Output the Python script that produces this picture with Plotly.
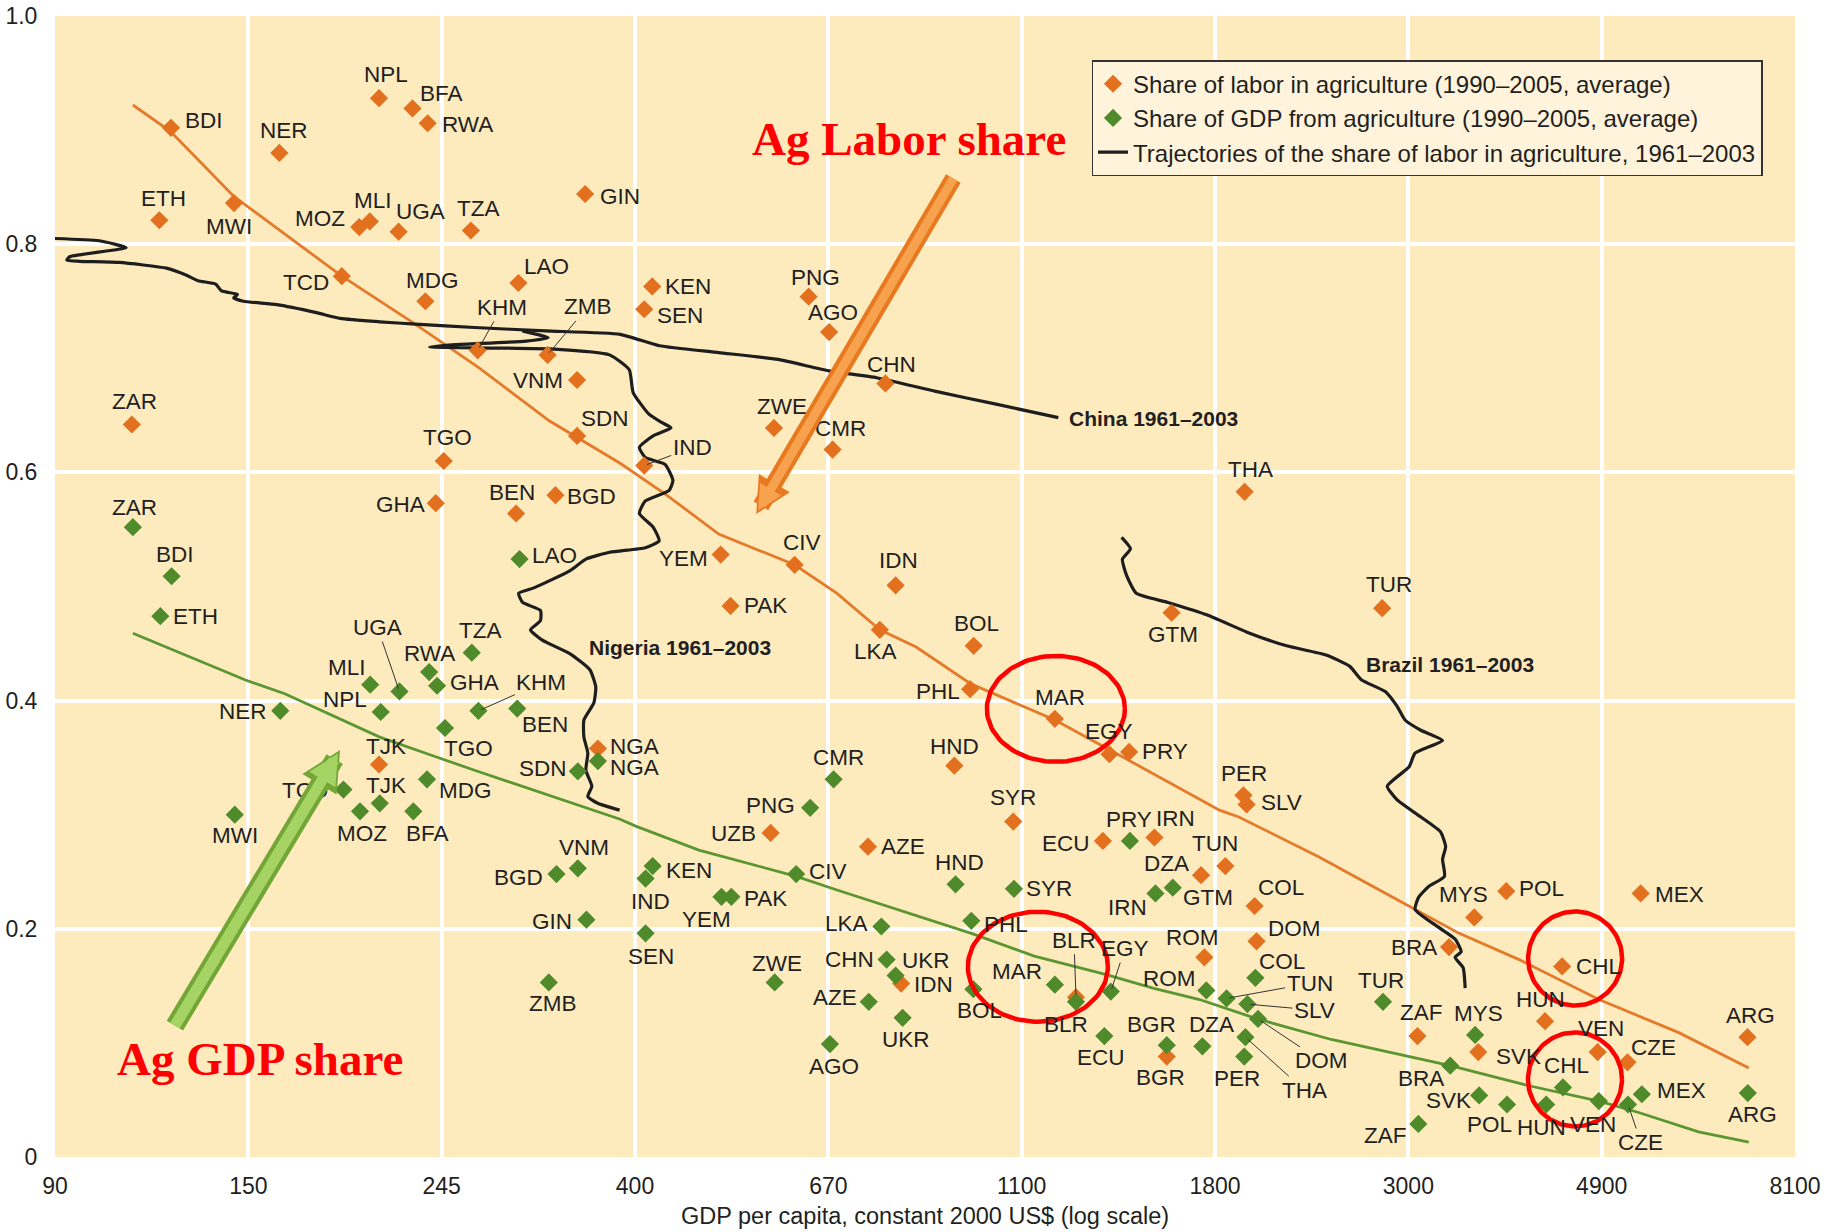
import numpy as np
import plotly.graph_objects as go

# ------------------------------------------------------------------ data
x_tick_labels = ["90", "150", "245", "400", "670", "1100", "1800", "3000", "4900", "8100"]
y_tick_values = [0, 0.2, 0.4, 0.6, 0.8, 1.0]
y_tick_labels = ["0", "0.2", "0.4", "0.6", "0.8", "1.0"]

labor_country = ["BDI", "NER", "NPL", "BFA", "RWA", "ETH", "MWI", "MOZ", "MLI", "UGA",
                 "TZA", "GIN", "TCD", "MDG", "LAO", "KHM", "ZMB", "VNM", "ZAR", "SDN",
                 "KEN", "SEN", "PNG", "AGO", "CHN", "ZWE", "CMR", "IND", "TGO", "GHA",
                 "BEN", "BGD", "YEM", "CIV", "IDN", "PAK", "LKA", "BOL", "PHL", "MAR",
                 "EGY", "PRY", "HND", "GTM", "THA", "TUR", "NGA", "TJK", "SYR", "PER",
                 "SLV", "UZB", "AZE", "ECU", "IRN", "DZA", "TUN", "COL", "DOM", "ROM",
                 "BLR", "IDN", "BGR", "MYS", "POL", "MEX", "BRA", "CHL", "HUN", "ZAF",
                 "SVK", "VEN", "CZE", "ARG"]
labor_gdp_pc = [121.5, 160.8, 208.1, 226.9, 236.0, 117.9, 143.0, 197.7, 203.2, 218.9,
                263.9, 354.6, 189.0, 234.6, 298.4, 268.6, 321.8, 347.3, 109.8, 347.3,
                421.8, 413.2, 632.1, 666.5, 770.9, 577.9, 672.5, 413.2, 246.0, 241.0,
                296.6, 328.4, 503.5, 609.6, 791.5, 516.5, 759.9, 968.6, 959.8, 1195,
                1376, 1448, 921.4, 1616, 1952, 2786, 366.5, 208.1, 1073, 1946,
                1962, 572.9, 736.9, 1353, 1546, 1744, 1857, 2003, 2013, 1759,
                1262, 802.9, 1596, 3535, 3840, 5436, 3312, 4437, 4245, 3052,
                3572, 4864, 5254, 7165]
labor_share = [0.902, 0.880, 0.928, 0.919, 0.906, 0.821, 0.836, 0.815, 0.820, 0.811,
               0.812, 0.844, 0.772, 0.750, 0.766, 0.707, 0.703, 0.681, 0.642, 0.632,
               0.763, 0.743, 0.754, 0.723, 0.678, 0.639, 0.620, 0.606, 0.610, 0.573,
               0.564, 0.580, 0.528, 0.519, 0.501, 0.483, 0.462, 0.448, 0.410, 0.384,
               0.353, 0.355, 0.343, 0.477, 0.583, 0.481, 0.358, 0.344, 0.294, 0.317,
               0.309, 0.284, 0.272, 0.277, 0.280, 0.247, 0.255, 0.220, 0.189, 0.175,
               0.140, 0.152, 0.088, 0.210, 0.233, 0.231, 0.184, 0.167, 0.119, 0.106,
               0.092, 0.092, 0.083, 0.105]

gdp_country = ["ZAR", "BDI", "ETH", "LAO", "TZA", "RWA", "GHA", "MLI", "UGA", "NER",
               "NPL", "KHM", "BEN", "TGO", "SDN", "NGA", "TCD", "TJK", "MDG", "MWI",
               "MOZ", "BFA", "BGD", "VNM", "GIN", "ZMB", "PNG", "CMR", "KEN", "IND",
               "CIV", "YEM", "PAK", "SEN", "LKA", "HND", "SYR", "PHL", "PRY", "IRN",
               "GTM", "CHN", "UKR", "ZWE", "AZE", "UKR", "AGO", "BOL", "MAR", "BLR",
               "EGY", "ECU", "BGR", "DZA", "ROM", "COL", "TUN", "SLV", "DOM", "THA",
               "PER", "TUR", "ZAF", "BRA", "MYS", "SVK", "POL", "HUN", "CHL", "VEN",
               "CZE", "MEX", "ARG"]
gdp_gdp_pc = [110.1, 121.7, 118.2, 299.3, 264.5, 236.9, 241.8, 203.4, 219.4, 161.2,
              209.0, 269.1, 297.5, 246.8, 348.0, 366.5, 189.8, 208.5, 235.6, 143.3,
              198.1, 227.4, 329.3, 348.0, 355.8, 322.8, 634.6, 674.3, 422.3, 414.6,
              612.0, 504.5, 517.6, 414.6, 762.9, 924.3, 1075, 962.7, 1451, 1550,
              1621, 773.3, 791.5, 579.0, 738.5, 806.0, 667.9, 968.0, 1195, 1262,
              1381, 1358, 1596, 1750, 1768, 2007, 1863, 1966, 2021, 1956,
              1950, 2792, 3059, 3322, 3543, 3580, 3848, 4258, 4447, 4879,
              5261, 5453, 7172]
gdp_share = [0.552, 0.509, 0.474, 0.524, 0.442, 0.425, 0.413, 0.414, 0.408, 0.391,
             0.390, 0.391, 0.393, 0.376, 0.338, 0.347, 0.322, 0.310, 0.331, 0.300,
             0.303, 0.303, 0.248, 0.253, 0.208, 0.153, 0.306, 0.331, 0.255, 0.244,
             0.248, 0.228, 0.228, 0.196, 0.202, 0.239, 0.235, 0.207, 0.277, 0.231,
             0.236, 0.173, 0.159, 0.153, 0.136, 0.122, 0.099, 0.147, 0.151, 0.136,
             0.145, 0.106, 0.098, 0.097, 0.146, 0.157, 0.139, 0.134, 0.121, 0.105,
             0.088, 0.136, 0.029, 0.080, 0.107, 0.054, 0.046, 0.046, 0.061, 0.049,
             0.046, 0.055, 0.056]

labor_fit_gdp = [110.1, 121.3, 142.9, 159.8, 189.0, 227.4, 269.1, 323.5, 388.2, 436.3,
                 500.9, 609.6, 680.2, 760.0, 834.7, 959.9, 1195, 1376, 1829, 1923,
                 2366, 3034, 3400, 3970, 4880, 6000, 7190]
labor_fit_share = [0.922, 0.899, 0.842, 0.814, 0.772, 0.731, 0.692, 0.645, 0.608, 0.581,
                   0.546, 0.519, 0.494, 0.462, 0.447, 0.415, 0.383, 0.357, 0.304, 0.298,
                   0.263, 0.217, 0.196, 0.173, 0.138, 0.109, 0.078]

gdp_fit_gdp = [110.1, 147.3, 163.1, 208.5, 240.5, 266.4, 388.2, 404.1, 475.9, 612.1,
               680.2, 793.2, 962.7, 1133, 1362, 1540, 1737, 2017, 2442, 3323,
               4096, 4880, 5408, 6314, 7190]
gdp_fit_share = [0.459, 0.418, 0.406, 0.368, 0.351, 0.339, 0.296, 0.290, 0.269, 0.246,
                 0.234, 0.217, 0.196, 0.176, 0.160, 0.148, 0.138, 0.121, 0.103, 0.080,
                 0.062, 0.049, 0.039, 0.022, 0.013]

china_gdp = [90.0, 100.9, 108.2, 93.5, 92.8, 95.9, 106.2, 120.1, 126.3, 130.3,
             136.4, 138.5, 144.3, 142.9, 146.5, 159.8, 177.0, 188.2, 208.5, 228.6,
             266.4, 320.2, 388.2, 429.7, 500.9, 583.8, 666.5, 753.7, 878.3, 1023.3, 1205.6]
china_share = [0.805, 0.803, 0.797, 0.789, 0.786, 0.785, 0.784, 0.779, 0.773, 0.768,
               0.765, 0.759, 0.756, 0.753, 0.750, 0.747, 0.740, 0.735, 0.732, 0.730,
               0.727, 0.724, 0.721, 0.711, 0.705, 0.699, 0.689, 0.683, 0.671, 0.660, 0.648]

nigeria_gdp = [301.4, 322.2, 304.5, 253.4, 237.2, 280.7, 327.2, 377.7, 397.5, 401.5,
               418.3, 431.6, 442.8, 422.8, 408.0, 414.4, 436.0, 445.0, 440.5, 414.4,
               408.0, 422.8, 429.4, 414.4, 377.9, 355.3, 341.1, 311.1, 298.6, 301.7,
               315.9, 315.9, 307.9, 317.4, 341.1, 359.0, 364.5, 362.7, 353.5, 353.5,
               357.1, 355.3, 360.8, 357.1, 366.4, 387.7]
nigeria_share = [0.724, 0.718, 0.715, 0.712, 0.710, 0.709, 0.708, 0.703, 0.690, 0.670,
                 0.651, 0.644, 0.639, 0.632, 0.622, 0.613, 0.607, 0.593, 0.584, 0.575,
                 0.564, 0.552, 0.540, 0.534, 0.530, 0.524, 0.514, 0.499, 0.494, 0.486,
                 0.479, 0.470, 0.462, 0.453, 0.441, 0.427, 0.412, 0.398, 0.383, 0.368,
                 0.354, 0.339, 0.325, 0.316, 0.310, 0.304]

brazil_gdp = [1420, 1453, 1423, 1438, 1475, 1601, 1773, 1964, 2176, 2410,
              2562, 2642, 2808, 2896, 2956, 3079, 3257, 3033, 2987, 2823,
              2896, 3079, 3240, 3283, 3257, 3273, 3142, 3063, 3034, 3228,
              3364, 3417, 3364, 3435, 3453]
brazil_share = [0.543, 0.533, 0.524, 0.510, 0.494, 0.486, 0.475, 0.460, 0.448, 0.440,
                0.430, 0.418, 0.408, 0.395, 0.383, 0.374, 0.365, 0.354, 0.342, 0.325,
                0.313, 0.298, 0.285, 0.272, 0.261, 0.246, 0.237, 0.228, 0.217, 0.201,
                0.191, 0.180, 0.175, 0.166, 0.148]

# ------------------------------------------------------------------ layout helpers
# label placement per point: (anchor, dx px, dy px downwards); "lead" = leader line
labor_label_place = [
    ("left", 12, -7), ("center", 5, -22), ("center", 7, -24), ("left", 6, -15), ("left", 12, 1),
    ("center", 4, -22), ("center", -5, 23), ("right", -12, -9), ("center", 3, -21), ("center", 22, -20),
    ("center", 8, -22), ("left", 13, 2), ("right", -11, 6), ("center", 7, -21), ("left", 4, -16),
    ("lead", 24, -43), ("lead", 40, -48), ("right", -12, 1), ("center", 3, -23), ("left", 2, -17),
    ("left", 11, 0), ("left", 11, 6), ("center", 7, -19), ("center", 4, -20), ("center", 6, -19),
    ("center", 8, -21), ("center", 8, -21), ("lead", 48, -18), ("center", 4, -23), ("right", -9, 1),
    ("center", -4, -21), ("left", 10, 1), ("right", -11, 4), ("center", 7, -22), ("center", 3, -25),
    ("left", 11, 0), ("center", -4, 22), ("center", 3, -22), ("right", -8, 2), ("center", 5, -21),
    ("center", 0, -23), ("left", 11, 0), ("center", 0, -19), ("center", 1, 22), ("center", 6, -22),
    ("center", 7, -24), ("left", 10, -2), ("center", 7, -18), ("center", 0, -24), ("center", 1, -22),
    ("left", 12, -2), ("right", -13, 1), ("left", 11, 0), ("right", -11, 3), ("center", 21, -19),
    ("right", -10, -12), ("center", -10, -23), ("left", 1, -18), ("left", 9, -13), ("center", -12, -20),
    ("lead", -2, -57), ("left", 11, 1), ("center", -6, 21), ("center", -11, -23), ("left", 11, -3),
    ("left", 12, 1), ("right", -10, 0), ("left", 12, 0), ("center", -5, -22), ("center", 4, -24),
    ("left", 16, 4), ("center", 3, -24), ("left", 2, -15), ("center", 3, -22)]

gdp_label_place = [
    ("center", 2, -20), ("center", 3, -22), ("left", 11, 0), ("left", 10, -4), ("center", 9, -22),
    ("center", 0, -19), ("left", 11, -3), ("right", -2, -17), ("lead", -22, -64), ("right", -11, 1),
    ("right", -12, -13), ("lead", 63, -28), ("center", 28, 16), ("center", 24, 21), ("right", -9, -3),
    ("left", 10, 6), ("right", -13, 1), ("center", 6, -18), ("left", 10, 11), ("center", 0, 21),
    ("center", 2, 22), ("center", 14, 22), ("right", -11, 3), ("center", 6, -21), ("right", -12, 2),
    ("center", 4, 21), ("right", -13, -2), ("center", 5, -22), ("left", 11, 4), ("center", 5, 23),
    ("left", 11, -3), ("center", -15, 23), ("left", 11, 2), ("center", 5, 23), ("right", -11, -3),
    ("center", 4, -22), ("left", 10, 0), ("left", 11, 4), ("center", -1, -21), ("right", -6, 14),
    ("left", 8, 10), ("right", -11, 0), ("left", 4, -15), ("center", 2, -19), ("right", -10, -4),
    ("center", 3, 22), ("center", 4, 22), ("center", 6, 21), ("right", -11, -13), ("center", -10, 23),
    ("lead", 14, -43), ("center", -3, 21), ("center", -15, -21), ("center", 9, -22), ("right", -8, -12),
    ("left", 2, -16), ("lead", 83, -15), ("lead", 67, 6), ("lead", 63, 42), ("lead", 59, 53),
    ("center", -7, 22), ("center", -2, -21), ("right", -9, 12), ("center", -29, 13), ("center", 3, -21),
    ("right", -6, 5), ("center", -18, 20), ("center", -5, 23), ("center", 4, -22), ("center", -6, 23),
    ("lead", 13, 38), ("left", 13, -4), ("center", 5, 21)]

ORANGE = "#E2701F"
GREEN = "#4F8A2B"
TEXT = "#231F20"
SANS = "Liberation Sans, Arial, sans-serif"
label_font = dict(family=SANS, size=22.5, color=TEXT)

# plot geometry (for pixel-sized decorations)
W, H = 1827, 1232
ML, MR, MT, MB = 55, 32, 16, 75
PW, PH = W - ML - MR, H - MT - MB
X_RANGE = [4.5 / np.log(10), 9 / np.log(10)]
PX_PER_DECADE = PW / (X_RANGE[1] - X_RANGE[0])

fig = go.Figure()

# fitted curves
fig.add_trace(go.Scatter(x=labor_fit_gdp, y=labor_fit_share, mode="lines",
                         line=dict(color="#E47A2A", width=2.8), showlegend=False, hoverinfo="skip"))
fig.add_trace(go.Scatter(x=gdp_fit_gdp, y=gdp_fit_share, mode="lines",
                         line=dict(color="#5C9631", width=2.8), showlegend=False, hoverinfo="skip"))

# trajectories
TRAJ_NAME = "Trajectories of the share of labor in agriculture, 1961–2003"
for i, (gx, gy) in enumerate([(china_gdp, china_share), (nigeria_gdp, nigeria_share),
                              (brazil_gdp, brazil_share)]):
    fig.add_trace(go.Scatter(x=gx, y=gy, mode="lines", name=TRAJ_NAME, legendgroup="traj",
                             legendrank=3, showlegend=(i == 0),
                             line=dict(color="#1E1E1E", width=3.2, shape="spline", smoothing=0.5)))

fig.add_trace(go.Scatter(x=labor_gdp_pc, y=labor_share, mode="markers",
                         name="Share of labor in agriculture (1990–2005, average)", legendrank=1,
                         marker=dict(symbol="diamond", size=14, color=ORANGE, line=dict(width=0)),
                         text=labor_country))
fig.add_trace(go.Scatter(x=gdp_gdp_pc, y=gdp_share, mode="markers",
                         name="Share of GDP from agriculture (1990–2005, average)", legendrank=2,
                         marker=dict(symbol="diamond", size=14, color=GREEN, line=dict(width=0)),
                         text=gdp_country))

# red circles around highlighted points (country, series, centre dx, dy, rx, ry in px)
circles = [("MAR", "labor", 1, -10, 69, 53), ("MAR", "gdp", -17, -18, 70, 55),
           ("CHL", "labor", 13, -8, 47, 47), ("CHL", "gdp", 12, -8, 47, 47)]
theta = np.linspace(0, 2 * np.pi, 121)
for c, series, dx, dy, rx, ry in circles:
    if series == "labor":
        k = labor_country.index(c)
        px, py = labor_gdp_pc[k], labor_share[k]
    else:
        k = gdp_country.index(c)
        px, py = gdp_gdp_pc[k], gdp_share[k]
    cx = np.log10(px) + dx / PX_PER_DECADE
    cy = py - dy / PH
    fig.add_trace(go.Scatter(x=10 ** (cx + rx / PX_PER_DECADE * np.cos(theta)),
                             y=cy + ry / PH * np.sin(theta), mode="lines",
                             line=dict(color="#FF0000", width=4.5), showlegend=False,
                             hoverinfo="skip"))

annotations = []


def add_labels(codes, gx, gy, places):
    for c, x, y, (mode, dx, dy) in zip(codes, gx, gy, places):
        if mode == "lead":
            annotations.append(dict(x=np.log10(x), y=y, xref="x", yref="y", text=c,
                                    showarrow=True, arrowhead=0, arrowwidth=1, arrowcolor="#333",
                                    ax=dx, ay=dy, standoff=3, font=label_font))
        else:
            annotations.append(dict(x=np.log10(x), y=y, xref="x", yref="y", text=c,
                                    showarrow=False, xanchor=mode, yanchor="middle",
                                    xshift=dx, yshift=-dy, font=label_font))


add_labels(labor_country, labor_gdp_pc, labor_share, labor_label_place)
add_labels(gdp_country, gdp_gdp_pc, gdp_share, gdp_label_place)

bold_font = dict(family=SANS, size=21, color=TEXT)
annotations.append(dict(x=np.log10(china_gdp[-1]), y=china_share[-1], xref="x", yref="y",
                        text="<b>China 1961–2003</b>", showarrow=False, xanchor="left",
                        yanchor="middle", xshift=9, yshift=-1, font=bold_font))
annotations.append(dict(x=np.log10(nigeria_gdp[35]), y=nigeria_share[35], xref="x", yref="y",
                        text="<b>Nigeria 1961–2003</b>", showarrow=False, xanchor="left",
                        yanchor="middle", xshift=-3, yshift=22, font=bold_font))
annotations.append(dict(x=np.log10(brazil_gdp[10]), y=brazil_share[10], xref="x", yref="y",
                        text="<b>Brazil 1961–2003</b>", showarrow=False, xanchor="left",
                        yanchor="middle", xshift=14, yshift=2, font=bold_font))

# axis title
annotations.append(dict(x=0.5, y=-0.052, xref="paper", yref="paper", showarrow=False,
                        text="GDP per capita, constant 2000 US$ (log scale)", xanchor="center",
                        yanchor="middle", font=dict(family=SANS, size=23.5, color=TEXT)))

# red callouts
red_font = dict(family="Liberation Serif, Times New Roman, serif", size=47, color="#FF0000")
annotations.append(dict(x=0.4906, y=0.892, xref="paper", yref="paper", showarrow=False,
                        xanchor="center", yanchor="middle",
                        text="<b>Ag Labor share</b>", font=red_font))
annotations.append(dict(x=0.1176, y=0.0857, xref="paper", yref="paper", showarrow=False,
                        xanchor="center", yanchor="middle",
                        text="<b>Ag GDP share</b>", font=red_font))

# big arrows (base + lighter highlight for a bevelled look)
annotations.append(dict(x=0.4030, y=0.5636, xref="paper", yref="paper", text="", showarrow=True,
                        ax=198, ay=-337, arrowhead=2, arrowsize=0.42, arrowwidth=17,
                        arrowcolor="#E8791F"))
annotations.append(dict(x=0.4030, y=0.5636, xref="paper", yref="paper", text="", showarrow=True,
                        ax=198, ay=-337, arrowhead=2, arrowsize=0.55, arrowwidth=9,
                        standoff=4, arrowcolor="#F6A24F"))
annotations.append(dict(x=0.1638, y=0.3566, xref="paper", yref="paper", text="", showarrow=True,
                        ax=-166, ay=277, arrowhead=2, arrowsize=0.42, arrowwidth=19,
                        arrowcolor="#74A637"))
annotations.append(dict(x=0.1638, y=0.3566, xref="paper", yref="paper", text="", showarrow=True,
                        ax=-166, ay=277, arrowhead=2, arrowsize=0.55, arrowwidth=11,
                        standoff=4, arrowcolor="#A5D465"))

tick_font = dict(family=SANS, size=23, color=TEXT)
fig.update_layout(
    width=W, height=H,
    margin=dict(l=ML, r=MR, t=MT, b=MB),
    paper_bgcolor="white", plot_bgcolor="#FDEBBE",
    font=dict(family=SANS, size=22, color=TEXT),
    annotations=annotations,
    showlegend=True,
    legend=dict(x=0.5957, y=0.9613, xanchor="left", yanchor="top", bgcolor="#FFF4DB",
                bordercolor="#333333", borderwidth=1.5, font=dict(family=SANS, size=24, color=TEXT),
                tracegroupgap=0, itemwidth=30),
    xaxis=dict(type="log", range=X_RANGE, automargin=False, ticklabeloverflow="allow",
               tickvals=list(np.exp(np.arange(4.5, 9.01, 0.5))), ticktext=x_tick_labels,
               showgrid=True, gridcolor="white", gridwidth=4, zeroline=False, showline=False,
               ticks="outside", ticklen=8, tickcolor="rgba(0,0,0,0)", tickfont=tick_font),
    yaxis=dict(range=[0, 1], tickvals=y_tick_values, ticktext=y_tick_labels, automargin=False,
               ticklabeloverflow="allow",
               showgrid=True, gridcolor="white", gridwidth=4, zeroline=False, showline=False,
               ticks="outside", ticklen=12, tickcolor="rgba(0,0,0,0)", tickfont=tick_font),
)

fig.write_html("out.html", config={"displayModeBar": False},
               post_script="document.body.style.margin='0';document.body.style.overflow='hidden';")
